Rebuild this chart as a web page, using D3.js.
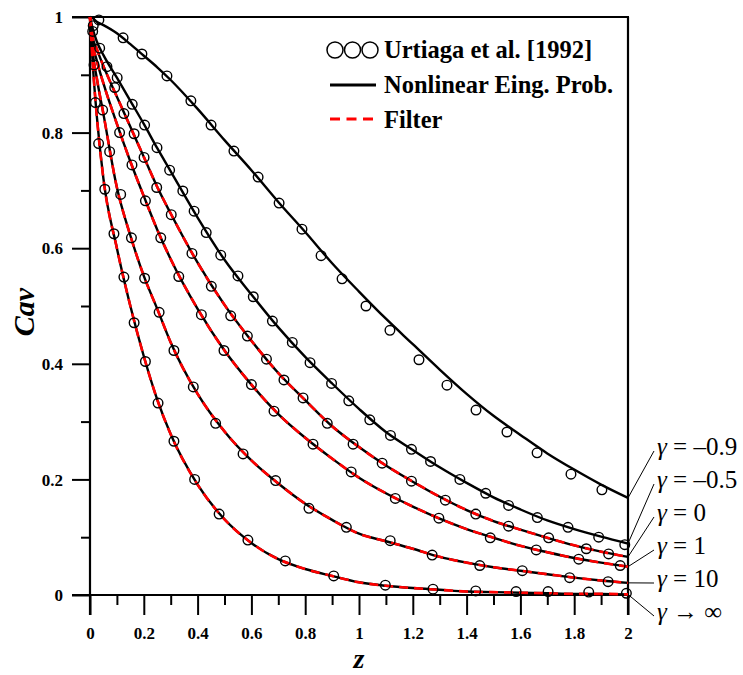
<!DOCTYPE html>
<html>
<head>
<meta charset="utf-8">
<script src="https://cdn.jsdelivr.net/npm/d3@7"></script>
<style>
  body { margin: 0; background: #fff; }
  svg text { font-family: "Liberation Serif", Tinos, "DejaVu Serif", serif; }
</style>
</head>
<body>
<script>
// z positions of the computed curves
const zGrid = [0, 0.01, 0.025, 0.05, 0.1, 0.15, 0.2, 0.25, 0.3, 0.4, 0.5, 0.6, 0.7, 0.8, 0.9,
  1.0, 1.1, 1.2, 1.3, 1.4, 1.5, 1.6, 1.7, 1.8, 1.9, 2.0];

// Nonlinear eigenvalue problem, one array per gamma
const cGammaM09 = [1, 0.998, 0.992, 0.986, 0.972, 0.953, 0.933, 0.913, 0.891, 0.841, 0.787, 0.735, 0.680, 0.628, 0.574,
  0.525, 0.478, 0.434, 0.390, 0.348, 0.310, 0.277, 0.245, 0.217, 0.191, 0.168];
const cGammaM05 = [1, 0.980, 0.958, 0.934, 0.895, 0.855, 0.815, 0.773, 0.733, 0.653, 0.580, 0.520, 0.463, 0.412, 0.366,
  0.322, 0.282, 0.251, 0.221, 0.194, 0.169, 0.148, 0.129, 0.114, 0.101, 0.089];
const cGamma0 = [1, 0.965, 0.945, 0.915, 0.862, 0.810, 0.758, 0.706, 0.660, 0.575, 0.502, 0.440, 0.384, 0.337, 0.292,
  0.256, 0.224, 0.196, 0.170, 0.147, 0.128, 0.113, 0.099, 0.086, 0.075, 0.066];
const cGamma1 = [1, 0.955, 0.925, 0.885, 0.815, 0.750, 0.690, 0.632, 0.581, 0.495, 0.423, 0.364, 0.313, 0.272, 0.236,
  0.203, 0.176, 0.153, 0.132, 0.114, 0.099, 0.085, 0.074, 0.064, 0.056, 0.049];
const cGamma10 = [1, 0.940, 0.895, 0.832, 0.705, 0.622, 0.552, 0.495, 0.437, 0.348, 0.283, 0.233, 0.193, 0.158, 0.130,
  0.106, 0.093, 0.080, 0.066, 0.056, 0.048, 0.042, 0.036, 0.030, 0.025, 0.021];
const cGammaInf = [1, 0.920, 0.830, 0.720, 0.600, 0.500, 0.413, 0.338, 0.278, 0.191, 0.131, 0.090, 0.062, 0.045, 0.033,
  0.022, 0.016, 0.012, 0.009, 0.006, 0.005, 0.004, 0.003, 0.002, 0.002, 0.001];

// Urtiaga et al. [1992] points, [z, Cav]
const expGammaM09 = [[0.033, 0.995], [0.123, 0.964], [0.193, 0.936], [0.286, 0.898], [0.375, 0.855], [0.450, 0.813],
  [0.535, 0.768], [0.625, 0.723], [0.703, 0.678], [0.788, 0.633], [0.859, 0.587], [0.937, 0.547], [1.026, 0.500],
  [1.115, 0.458], [1.223, 0.407], [1.327, 0.363], [1.435, 0.320], [1.550, 0.282], [1.662, 0.246], [1.788, 0.209],
  [1.903, 0.182]];
const expGammaM05 = [[0.012, 0.985], [0.036, 0.946], [0.101, 0.895], [0.157, 0.849], [0.203, 0.813], [0.249, 0.774],
  [0.296, 0.735], [0.345, 0.699], [0.387, 0.664], [0.432, 0.627], [0.486, 0.588], [0.550, 0.552], [0.607, 0.516],
  [0.678, 0.474], [0.752, 0.437], [0.818, 0.402], [0.898, 0.366], [0.962, 0.336], [1.040, 0.303], [1.117, 0.276],
  [1.195, 0.252], [1.266, 0.231], [1.375, 0.200], [1.471, 0.176], [1.556, 0.155], [1.663, 0.134], [1.777, 0.117],
  [1.891, 0.100], [1.988, 0.087]];
const expGamma0 = [[0.010, 0.975], [0.063, 0.914], [0.092, 0.878], [0.126, 0.833], [0.164, 0.798], [0.201, 0.757],
  [0.248, 0.705], [0.302, 0.658], [0.379, 0.591], [0.451, 0.534], [0.523, 0.483], [0.585, 0.448], [0.656, 0.408],
  [0.721, 0.372], [0.792, 0.341], [0.882, 0.297], [0.978, 0.261], [1.086, 0.228], [1.195, 0.197], [1.321, 0.164],
  [1.434, 0.140], [1.556, 0.119], [1.705, 0.099], [1.845, 0.080], [1.928, 0.071]];
const expGamma1 = [[0.015, 0.917], [0.110, 0.800], [0.156, 0.744], [0.206, 0.682], [0.263, 0.618], [0.330, 0.551],
  [0.414, 0.485], [0.498, 0.423], [0.600, 0.364], [0.684, 0.318], [0.829, 0.261], [0.971, 0.213], [1.135, 0.167],
  [1.297, 0.133], [1.488, 0.099], [1.659, 0.078], [1.817, 0.062], [1.971, 0.051]];
const expGamma10 = [[0.047, 0.839], [0.073, 0.767], [0.114, 0.693], [0.154, 0.618], [0.203, 0.548], [0.257, 0.489],
  [0.312, 0.423], [0.384, 0.360], [0.467, 0.297], [0.569, 0.244], [0.690, 0.198], [0.814, 0.150], [0.953, 0.117],
  [1.116, 0.094], [1.272, 0.069], [1.449, 0.051], [1.607, 0.042], [1.783, 0.030], [1.926, 0.023]];
const expGammaInf = [[0.020, 0.852], [0.032, 0.781], [0.055, 0.702], [0.089, 0.625], [0.126, 0.550], [0.164, 0.471],
  [0.206, 0.404], [0.253, 0.332], [0.312, 0.266], [0.389, 0.200], [0.480, 0.140], [0.587, 0.095], [0.726, 0.059],
  [0.906, 0.033], [1.098, 0.017], [1.275, 0.010], [1.434, 0.007], [1.584, 0.006], [1.703, 0.006], [1.854, 0.005],
  [1.994, 0.003]];

const gammaLabels = ["\u20130.9", "\u20130.5", "0", "1", "10", "\u221E"];
const gammaOps = ["=", "=", "=", "=", "=", "\u2192"];
const filterShown = [false, false, true, true, true, true];

const xTicks = [0, 0.2, 0.4, 0.6, 0.8, 1, 1.2, 1.4, 1.6, 1.8, 2];
const xTickLabels = ["0", "0.2", "0.4", "0.6", "0.8", "1", "1.2", "1.4", "1.6", "1.8", "2"];
const yTicks = [0, 0.2, 0.4, 0.6, 0.8, 1];
const yTickLabels = ["0", "0.2", "0.4", "0.6", "0.8", "1"];

const legendLabels = ["Urtiaga et al. [1992]", "Nonlinear Eing. Prob.", "Filter"];

const curves = [cGammaM09, cGammaM05, cGamma0, cGamma1, cGamma10, cGammaInf];
const points = [expGammaM09, expGammaM05, expGamma0, expGamma1, expGamma10, expGammaInf];

const serif = "Liberation Serif, Tinos, DejaVu Serif, serif";

const width = 743, height = 675,
    margin = ({ top: 17, right: 115, bottom: 80, left: 90 });

const x = d3.scaleLinear()
    .domain([0, 2])
    .range([margin.left, width - margin.right]);

const y = d3.scaleLinear()
    .domain([0, 1])
    .range([height - margin.bottom, margin.top]);

const svg = d3.select("body").append("svg")
    .attr("width", width)
    .attr("height", height)
    .attr("viewBox", [0, 0, width, height])
    .attr("font-family", serif);

const majorX = 20, minorX = 10, majorY = 18, minorY = 9;

// minor ticks
svg.append("g")
    .attr("transform", `translate(0,${y(0)})`)
    .call(d3.axisBottom(x).tickValues(d3.range(0.1, 2, 0.2)).tickSize(minorX).tickFormat(""))
    .call(g => g.select(".domain").remove())
    .call(g => g.selectAll("line").attr("stroke-width", 2));

svg.append("g")
    .attr("transform", `translate(${x(0)},0)`)
    .call(d3.axisLeft(y).tickValues(d3.range(0.1, 1, 0.2)).tickSize(minorY).tickFormat(""))
    .call(g => g.select(".domain").remove())
    .call(g => g.selectAll("line").attr("stroke-width", 2));

// major ticks + labels
svg.append("g")
    .attr("transform", `translate(0,${y(0)})`)
    .call(d3.axisBottom(x).tickValues(xTicks).tickSize(majorX).tickFormat((d, i) => xTickLabels[i]))
    .call(g => g.select(".domain").remove())
    .call(g => g.attr("font-family", serif))
    .call(g => g.selectAll("line").attr("stroke-width", 2))
    .call(g => g.selectAll("text")
        .attr("y", 44).attr("dy", null)
        .attr("font-size", 17).attr("font-weight", "bold")
        .attr("fill", "#000"));

svg.append("g")
    .attr("transform", `translate(${x(0)},0)`)
    .call(d3.axisLeft(y).tickValues(yTicks).tickSize(majorY).tickFormat((d, i) => yTickLabels[i]))
    .call(g => g.select(".domain").remove())
    .call(g => g.attr("font-family", serif))
    .call(g => g.selectAll("line").attr("stroke-width", 2))
    .call(g => g.selectAll("text")
        .attr("x", -27).attr("dy", "0.34em")
        .attr("font-size", 17).attr("font-weight", "bold")
        .attr("fill", "#000"));

// frame
const frame = svg.append("g").attr("stroke", "#000").attr("stroke-width", 2.2);
frame.append("line").attr("x1", x(0)).attr("x2", x(0)).attr("y1", y(1)).attr("y2", y(0) + majorX);
frame.append("line").attr("x1", x(2)).attr("x2", x(2)).attr("y1", y(1)).attr("y2", y(0) + majorX);
frame.append("line").attr("x1", x(0) - majorY).attr("x2", x(2) + 1).attr("y1", y(1)).attr("y2", y(1));
frame.append("line").attr("x1", x(0) - majorY).attr("x2", x(2)).attr("y1", y(0)).attr("y2", y(0));

// curves
const line = d3.line()
    .x((d, i) => x(zGrid[i]))
    .y(d => y(d))
    .curve(d3.curveMonotoneX);

svg.append("g")
    .selectAll("path")
    .data(curves)
    .enter()
    .append("path")
    .attr("d", line)
    .attr("fill", "none")
    .attr("stroke", "#000")
    .attr("stroke-width", 2.4);

svg.append("g")
    .selectAll("path")
    .data(curves.filter((c, i) => filterShown[i]))
    .enter()
    .append("path")
    .attr("d", line)
    .attr("fill", "none")
    .attr("stroke", "#ff0000")
    .attr("stroke-width", 2.6)
    .attr("stroke-dasharray", "9,6");

// experimental points
svg.append("g")
    .selectAll("circle")
    .data(points.flat())
    .enter()
    .append("circle")
    .attr("cx", d => x(d[0]))
    .attr("cy", d => y(d[1]))
    .attr("r", 4.8)
    .attr("fill", "none")
    .attr("stroke", "#000")
    .attr("stroke-width", 1.4);

// gamma labels with leader lines
const labelX = 657, labelY0 = 455, labelStep = 33;
const labels = svg.append("g");
gammaLabels.forEach((lab, i) => {
    const ly = labelY0 + i * labelStep;
    const c = curves[i];
    labels.append("line")
        .attr("x1", labelX - 3).attr("y1", ly - 4)
        .attr("x2", x(zGrid[zGrid.length - 1])).attr("y2", y(c[c.length - 1]))
        .attr("stroke", "#000").attr("stroke-width", 1);
    const t = labels.append("text")
        .attr("x", labelX).attr("y", ly)
        .attr("font-size", 25).attr("fill", "#000");
    t.append("tspan").attr("font-style", "italic").text("\u03B3");
    t.append("tspan").text(" " + gammaOps[i] + " " + lab);
});

// legend
const legend = svg.append("g");
[335, 352.5, 370].forEach(cx => legend.append("circle")
    .attr("cx", cx).attr("cy", 50).attr("r", 8)
    .attr("fill", "none").attr("stroke", "#000").attr("stroke-width", 1.5));
legend.append("line")
    .attr("x1", 330).attr("x2", 376).attr("y1", 85).attr("y2", 85)
    .attr("stroke", "#000").attr("stroke-width", 3);
legend.append("line")
    .attr("x1", 330).attr("x2", 374).attr("y1", 119).attr("y2", 119)
    .attr("stroke", "#ff0000").attr("stroke-width", 3)
    .attr("stroke-dasharray", "10,6.5");
legend.selectAll("text.lg")
    .data(legendLabels)
    .enter()
    .append("text")
    .attr("x", 384)
    .attr("y", (d, i) => 58 + i * 35)
    .attr("font-size", 24.5)
    .attr("font-weight", "bold")
    .attr("fill", "#000")
    .text(d => d);

// axis titles
svg.append("text")
    .attr("x", x(1))
    .attr("y", 668)
    .attr("text-anchor", "middle")
    .attr("font-size", 28)
    .attr("font-style", "italic")
    .attr("font-weight", "bold")
    .text("z");

svg.append("text")
    .attr("transform", "translate(34,312) rotate(-90)")
    .attr("text-anchor", "middle")
    .attr("font-size", 30)
    .attr("font-style", "italic")
    .attr("font-weight", "bold")
    .text("Cav");
</script>
</body>
</html>
